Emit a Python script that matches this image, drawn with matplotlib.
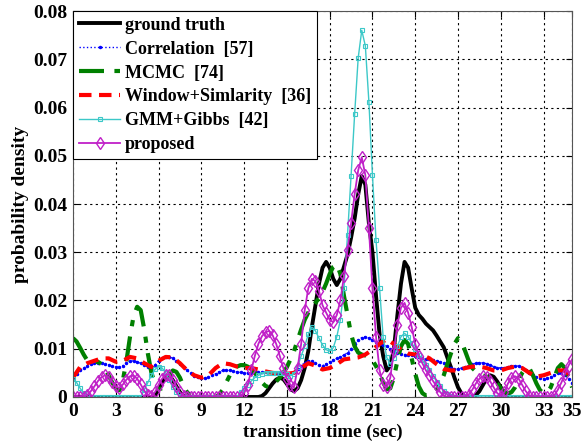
import numpy as np
import matplotlib.pyplot as plt
from matplotlib.ticker import FuncFormatter

plt.rcParams['font.family'] = ['Liberation Serif', 'DejaVu Serif']
plt.rcParams['font.weight'] = 'bold'

# time grids (sec)
t_fine = np.arange(141) * 0.25
t_coarse = np.arange(71) * 0.5

ground_truth = [
    0, 0, 0, 0,  0, 0, 0, 0,  0, 0, 0, 0,  0, 0, 0, 0,  0, 0, 0, 0,
    0, 0, 0, .0003,  .0015, .0030, .0042, .0045,  .0035, .0022, .0010, .0002,
    0, 0, 0, 0,  0, 0, 0, 0,  0, 0, 0, 0,  0, 0, 0, 0,  0, 0, 0, 0,
    0, .0002, .0008, .0018,  .0028, .0036, .0040, .0037,  .0027, .0016, .0012, .0018,
    .0035, .0060, .0095, .0145,  .0190, .0235, .0268, .0280,  .0268, .0245, .0232, .0245,
    .0270, .0295, .0330, .0370,  .0420, .0458, .0440, .0360,  .0300, .0210, .0130, .0085,
    .0055, .0065, .0098, .0170,  .0235, .0280, .0268, .0225,  .0185, .0170, .0162, .0152,
    .0145, .0138, .0127, .0115,  .0103, .0082, .0062, .0040,  .0020, .0007, 0, 0,
    0, .0004, .0012, .0025,  .0038, .0045, .0042, .0032,  .0020, .0010, .0003, 0,
    0, 0, 0, 0,  0, 0, 0, 0,  0, 0, 0, 0,  0, 0, 0, 0,
    0,
]

correlation = [
    .0040, .0048, .0055, .0060,  .0065, .0068, .0070, .0071,  .0070, .0069, .0067, .0064,
    .0062, .0062, .0065, .0070,  .0074, .0075, .0073, .0070,  .0066, .0062, .0060, .0066,
    .0075, .0080, .0083, .0083,  .0080, .0075, .0069, .0062,  .0055, .0049, .0044, .0041,
    .0040, .0040, .0042, .0045,  .0048, .0052, .0055, .0056,  .0055, .0053, .0052, .0051,
    .0050, .0050, .0050, .0051,  .0052, .0052, .0052, .0051,  .0050, .0050, .0050, .0050,
    .0050, .0050, .0052, .0058,  .0065, .0071, .0075, .0074,  .0070, .0067, .0065, .0068,
    .0073, .0077, .0080, .0083,  .0087, .0092, .0100, .0110,  .0118, .0123, .0125, .0122,
    .0118, .0114, .0110, .0107,  .0105, .0100, .0095, .0092,  .0090, .0088, .0087, .0086,
    .0085, .0083, .0080, .0079,  .0078, .0077, .0075, .0073,  .0070, .0065, .0060, .0058,
    .0058, .0060, .0062, .0065,  .0068, .0070, .0071, .0071,  .0069, .0066, .0063, .0061,
    .0060, .0061, .0062, .0064,  .0065, .0064, .0061, .0056,  .0050, .0046, .0042, .0040,
    .0038, .0039, .0042, .0046,  .0050, .0049, .0045, .0038,
    .0030,
]

mcmc = [
    .0122, .0115, .0102, .0088,  .0076, .0072, .0072, .0073,  .0068, .0058, .0045, .0030,
    .0018, .0014, .0035, .0075,  .0125, .0168, .0187, .0180,  .0140, .0090, .0050, .0028,
    .0016, .0018, .0030, .0045,  .0055, .0052, .0040, .0022,  .0010, .0003, 0, 0,
    0, 0, 0, 0,  0, .0005, .0015, .0030,  .0045, .0056, .0063, .0066,
    .0066, .0063, .0058, .0050,  .0040, .0030, .0023, .0020,  .0025, .0032, .0040, .0050,
    .0062, .0078, .0095, .0118,  .0140, .0160, .0175, .0185,  .0195, .0205, .0218, .0235,
    .0255, .0270, .0275, .0255,  .0210, .0170, .0130, .0105,  .0092, .0088, .0086, .0083,
    .0076, .0064, .0048, .0030,  .0016, .0018, .0040, .0075,  .0105, .0118, .0110, .0080,
    .0048, .0022, .0008, .0003,  .0004, .0008, .0015, .0028,  .0045, .0068, .0090, .0110,
    .0122, .0115, .0095, .0075,  .0060, .0053, .0048, .0045,  .0042, .0040, .0036, .0028,
    .0018, .0010, .0008, .0010,  .0020, .0035, .0050, .0060,  .0060, .0045, .0028, .0014,
    .0008, .0010, .0020, .0040,  .0060, .0068, .0060, .0040,
    .0020,
]

window_sim = [
    .0040, .0062, .0070, .0075, .0080, .0080, .0073, .0075, .0083, .0080,
    .0070, .0062, .0075, .0083, .0082, .0070, .0055, .0045, .0040, .0045,
    .0060, .0070, .0068, .0063, .0060, .0060, .0057, .0053, .0050, .0048,
    .0048, .0050, .0060, .0070, .0065, .0057, .0060, .0068, .0078, .0080,
    .0082, .0088, .0098, .0110, .0120, .0110, .0098, .0090, .0088, .0087,
    .0080, .0068, .0058, .0055, .0055, .0060, .0063, .0063, .0060, .0055,
    .0055, .0060, .0063, .0060, .0050, .0042, .0045, .0050, .0055, .0055,
    .0040,
]

gmm_gibbs = [
    .0038, .0030, .0018, .0008,  .0002, 0, 0, 0,  0, 0, 0, 0,
    0, 0, 0, 0,  0, 0, 0, 0,  .0015, .0030, .0045, .0057,
    .0063, .0060, .0050, .0035,  .0020, .0010, .0003, 0,  0, 0, 0, 0,
    0, 0, 0, 0,  0, 0, 0, 0,  0, 0, 0, .0010,
    .0018, .0025, .0033, .0040,  .0045, .0048, .0050, .0050,  .0050, .0050, .0050, .0049,
    .0047, .0044, .0048, .0063,  .0085, .0105, .0130, .0145,  .0137, .0122, .0108, .0098,
    .0095, .0102, .0125, .0160,  .0225, .0335, .0458, .0586,  .0703, .0760, .0728, .0612,
    .0460, .0325, .0225, .0124,  .0082, .0068, .0080, .0105,  .0125, .0132, .0125, .0112,
    .0100, .0088, .0076, .0066,  .0056, .0044, .0032, .0022,  .0013, .0006, .0002, 0,
    0, 0, 0, 0,  0, 0, 0, 0,  0, 0, 0, 0,
    0, 0, 0, 0,  0, 0, 0, 0,  0, 0, 0, 0,
    0, 0, 0, 0,  0, 0, 0, 0,
    0,
]

proposed = [
    0, 0, 0, 0,  .0004, .0012, .0022, .0033,  .0041, .0045, .0041, .0031,
    .0022, .0019, .0026, .0036,  .0043, .0044, .0038, .0026,  .0013, .0004, .0002, .0010,
    .0025, .0038, .0046, .0046,  .0036, .0022, .0010, .0003,  0, 0, 0, 0,
    0, 0, 0, 0,  0, 0, 0, 0,  0, 0, 0, 0,
    .0008, .0025, .0055, .0085,  .0110, .0126, .0134, .0137,  .0128, .0110, .0085, .0060,
    .0038, .0025, .0020, .0060,  .0110, .0180, .0225, .0245,  .0240, .0220, .0190, .0175,
    .0160, .0155, .0170, .0200,  .0250, .0305, .0360, .0420,  .0470, .0497, .0460, .0350,
    .0225, .0125, .0055, .0025,  .0020, .0040, .0095, .0150,  .0185, .0195, .0175, .0145,
    .0110, .0085, .0070, .0055,  .0045, .0033, .0022, .0010,  .0003, 0, 0, 0,
    0, 0, 0, .0005,  .0015, .0028, .0038, .0043,  .0042, .0033, .0020, .0008,
    .0002, .0010, .0028, .0040,  .0043, .0038, .0025, .0012,  .0003, 0, 0, 0,
    0, 0, 0, .0003,  .0015, .0030, .0048, .0065,
    .0078,
]

fig = plt.figure(figsize=(5.82, 4.41), dpi=100)
ax = fig.add_axes([0.1254, 0.0998, 0.8576, 0.8752])

ax.plot(t_fine, ground_truth, color='black', lw=2.8, label='ground truth')
ax.plot(t_fine, correlation, color='blue', ls=':', lw=1.0, marker='.', ms=3,
        label='Correlation  [57]')
ax.plot(t_fine, mcmc, color='#008000', ls='-.', lw=3, dashes=(6, 2.5, 1.5, 2.5),
        label='MCMC  [74]')
ax.plot(t_coarse, window_sim, color='red', ls='--', lw=3, dashes=(3, 1.8),
        label='Window+Simlarity  [36]')
ax.plot(t_fine, gmm_gibbs, color='#3cc8c8', lw=1.0, marker='s', ms=3,
        mfc='none', mew=0.8, label='GMM+Gibbs  [42]')
ax.plot(t_fine, proposed, color='#c020c8', lw=1.3, marker='d', ms=6,
        mfc='none', mew=1.0, label='proposed')

ax.set_xlim(0, 35)
ax.set_ylim(0, 0.08)
ax.set_xticks([0, 3, 6, 9, 12, 15, 18, 21, 24, 27, 30, 33, 35])
ax.set_yticks(np.arange(0, 0.081, 0.01))
ax.yaxis.set_major_formatter(FuncFormatter(lambda v, p: '0' if v == 0 else f'{v:.2f}'))
ax.tick_params(direction='in', top=True, right=True, labelsize=14, length=4, pad=4)
ax.grid(True, color='black', ls=(0, (2, 3)), lw=0.8)
for sp in ax.spines.values():
    sp.set_color('#555555')

ax.set_xlabel('transition time (sec)', fontsize=13.5, fontweight='bold', labelpad=3)
ax.set_ylabel('probability density', fontsize=14, fontweight='bold', labelpad=3)

leg = ax.legend(loc='upper left', fontsize=13, frameon=True, fancybox=False,
                handlelength=2.3, handletextpad=0.25, borderaxespad=0,
                labelspacing=0.38, borderpad=0.32)
leg.get_frame().set_edgecolor('black')
leg.get_frame().set_linewidth(0.8)
leg.get_frame().set_alpha(1)

fig.savefig('out.png', dpi=100)
